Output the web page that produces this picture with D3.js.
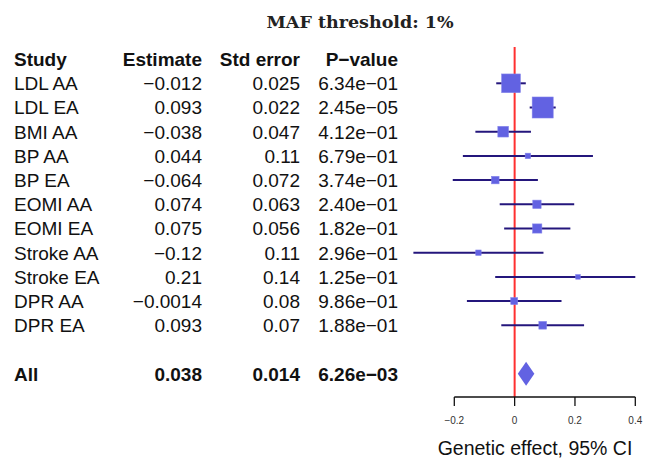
<!DOCTYPE html>
<html><head><meta charset="utf-8">
<script src="https://cdn.jsdelivr.net/npm/d3@7"></script>
<style>body{margin:0;background:#fff}svg{display:block}</style>
</head><body>
<script>
const studies = ["LDL AA","LDL EA","BMI AA","BP AA","BP EA","EOMI AA","EOMI EA","Stroke AA","Stroke EA","DPR AA","DPR EA"];
const estimates = [-0.012,0.093,-0.038,0.044,-0.064,0.074,0.075,-0.12,0.21,-0.0014,0.093];
const stdErrors = [0.025,0.022,0.047,0.11,0.072,0.063,0.056,0.11,0.14,0.08,0.07];
const estLabels = ["\u22120.012","0.093","\u22120.038","0.044","\u22120.064","0.074","0.075","\u22120.12","0.21","\u22120.0014","0.093"];
const seLabels = ["0.025","0.022","0.047","0.11","0.072","0.063","0.056","0.11","0.14","0.08","0.07"];
const pLabels = ["6.34e\u221201","2.45e\u221205","4.12e\u221201","6.79e\u221201","3.74e\u221201","2.40e\u221201","1.82e\u221201","2.96e\u221201","1.25e\u221201","9.86e\u221201","1.88e\u221201"];
const summaryLabel = "All";
const summaryEst = 0.038, summarySE = 0.014;
const summaryLabels = ["0.038","0.014","6.26e\u221203"];
const headers = ["Study","Estimate","Std error","P\u2212value"];
const xTicks = [-0.2,0,0.2,0.4];
const tickLabels = ["\u22120.2","0","0.2","0.4"];
const title = "MAF threshold: 1%";
const xTitle = "Genetic effect, 95% CI";

const W=654,H=459;
const svg=d3.select("body").append("svg").attr("width",W).attr("height",H);
const x=d3.scaleLinear().domain([-0.2,0.4]).range([454.3,635.3]);
const y=d3.scaleLinear().domain([0,12]).range([83.3,373.7]);
const box=d3.scaleLinear().domain([0,1/0.022]).range([1.5,21]);
const fs=19, cap=fs*0.36;
const boxColor="#6262e2", lineColor="#24167c";

svg.append("text").attr("x",360).attr("y",28).attr("text-anchor","middle")
  .attr("font-family","DejaVu Serif").attr("font-weight","bold").attr("font-size",17.5).attr("fill","#222")
  .text(title);

const colX=[14,202,300,398];
const anchors=["start","end","end","end"];
const tfont="Liberation Sans, Arial, sans-serif";
headers.forEach((h,j)=>{
  svg.append("text").attr("x",colX[j]).attr("y",y(-1)+cap).attr("text-anchor",anchors[j])
    .attr("font-family",tfont).attr("font-weight","bold").attr("font-size",fs).attr("fill","#111").text(h);
});
studies.forEach((s,i)=>{
  const vals=[s,estLabels[i],seLabels[i],pLabels[i]];
  vals.forEach((v,j)=>{
    svg.append("text").attr("x",colX[j]).attr("y",y(i)+cap).attr("text-anchor",anchors[j])
      .attr("font-family",tfont).attr("font-size",fs).attr("fill","#111").text(v);
  });
});
[summaryLabel,...summaryLabels].forEach((v,j)=>{
  svg.append("text").attr("x",colX[j]).attr("y",y(12)+cap).attr("text-anchor",anchors[j])
    .attr("font-family",tfont).attr("font-weight","bold").attr("font-size",fs).attr("fill","#111").text(v);
});

// zero line
svg.append("line").attr("x1",x(0)).attr("x2",x(0)).attr("y1",47).attr("y2",397)
  .attr("stroke","#ff3030").attr("stroke-width",2);

// CIs and boxes
const g=svg.append("g");
studies.forEach((s,i)=>{
  const lo=Math.max(estimates[i]-1.96*stdErrors[i],-0.34), hi=Math.min(estimates[i]+1.96*stdErrors[i],0.4);
  g.append("line").attr("x1",x(lo)).attr("x2",x(hi)).attr("y1",y(i)).attr("y2",y(i))
    .attr("stroke",lineColor).attr("stroke-width",2);
});
studies.forEach((s,i)=>{
  const sz=box(1/stdErrors[i]);
  g.append("rect").attr("x",x(estimates[i])-sz/2).attr("y",y(i)-sz/2).attr("width",sz).attr("height",sz)
    .attr("fill",boxColor).attr("stroke","#8080ea").attr("stroke-width",0.6);
});
// diamond
const dlo=summaryEst-1.96*summarySE, dhi=summaryEst+1.96*summarySE, yc=y(12);
g.append("path").attr("d",`M${x(dlo)},${yc}L${x(summaryEst)},${yc-12}L${x(dhi)},${yc}L${x(summaryEst)},${yc+12}Z`)
  .attr("fill",boxColor);

// axis
const ax=svg.append("g").attr("transform","translate(0,397)");
ax.append("line").attr("x1",x(-0.2)).attr("x2",x(0.4)).attr("stroke","#111").attr("stroke-width",1.3);
xTicks.forEach((t,k)=>{
  ax.append("line").attr("x1",x(t)).attr("x2",x(t)).attr("y1",0).attr("y2",9).attr("stroke","#111").attr("stroke-width",1.3);
  ax.append("text").attr("x",x(t)).attr("y",27).attr("text-anchor","middle")
    .attr("font-family",tfont).attr("font-size",10).attr("fill","#333").text(tickLabels[k]);
});
svg.append("text").attr("x",535).attr("y",455).attr("text-anchor","middle")
  .attr("font-family",tfont).attr("font-size",19.5).attr("fill","#111").text(xTitle);
</script>
</body></html>
